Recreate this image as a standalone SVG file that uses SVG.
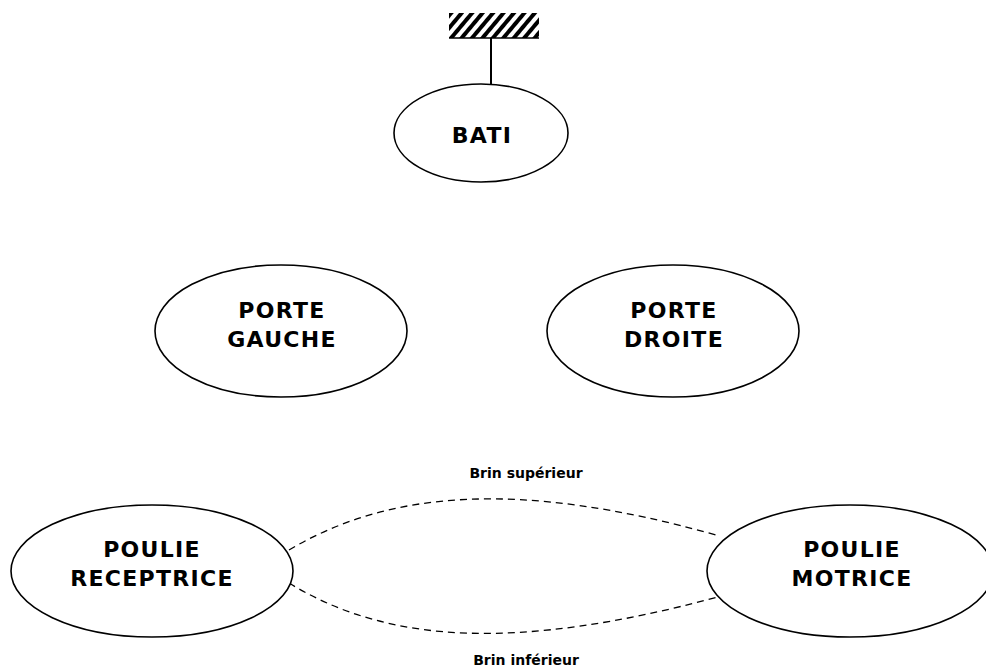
<svg xmlns="http://www.w3.org/2000/svg" width="986" height="670" viewBox="0 0 986 670">
<style>
.n{fill:#fff;stroke:#000;stroke-width:1.6}
.t{font-family:"DejaVu Sans",Verdana,sans-serif;font-weight:bold;font-size:22px;letter-spacing:1.3px;text-anchor:middle;fill:#000}
.s{font-family:"DejaVu Sans",sans-serif;font-weight:bold;font-size:14px;text-anchor:middle;fill:#000}
.c{fill:none;stroke:#000;stroke-width:1.3;stroke-dasharray:7 5}
</style>
<defs>
<pattern id="h" width="8" height="8" patternUnits="userSpaceOnUse" patternTransform="rotate(40)">
<rect x="0" y="0" width="4" height="8" fill="#000"/>
</pattern>
</defs>
<g id="ground">
<rect x="449" y="13" width="90" height="25" fill="url(#h)"/>
<line x1="449" y1="38" x2="539" y2="38" stroke="#000" stroke-width="1.5"/>
<line x1="491" y1="38" x2="491" y2="85" stroke="#000" stroke-width="2"/>
</g>
<g id="connectors">
<path class="c" d="M289,550 C390,490 520,480 716,535"/>
<path class="c" d="M289,583 C390,645 520,650 718,597"/>
<text class="s" x="526" y="478">Brin supérieur</text>
<text class="s" x="526" y="665">Brin inférieur</text>
</g>
<g id="bati">
<ellipse class="n" cx="481" cy="133" rx="87" ry="49"/>
<text class="t" x="482" y="143">BATI</text>
</g>
<g id="porte-gauche">
<ellipse class="n" cx="281" cy="331" rx="126" ry="66"/>
<text class="t" x="282" y="318">PORTE</text>
<text class="t" x="282" y="347">GAUCHE</text>
</g>
<g id="porte-droite">
<ellipse class="n" cx="673" cy="331" rx="126" ry="66"/>
<text class="t" x="674" y="318">PORTE</text>
<text class="t" x="674" y="347">DROITE</text>
</g>
<g id="poulie-receptrice">
<ellipse class="n" cx="152" cy="571" rx="141" ry="66"/>
<text class="t" x="152" y="557">POULIE</text>
<text class="t" x="152" y="586">RECEPTRICE</text>
</g>
<g id="poulie-motrice">
<ellipse class="n" cx="850" cy="571" rx="143" ry="66"/>
<text class="t" x="852" y="557">POULIE</text>
<text class="t" x="852" y="586">MOTRICE</text>
</g>
</svg>
